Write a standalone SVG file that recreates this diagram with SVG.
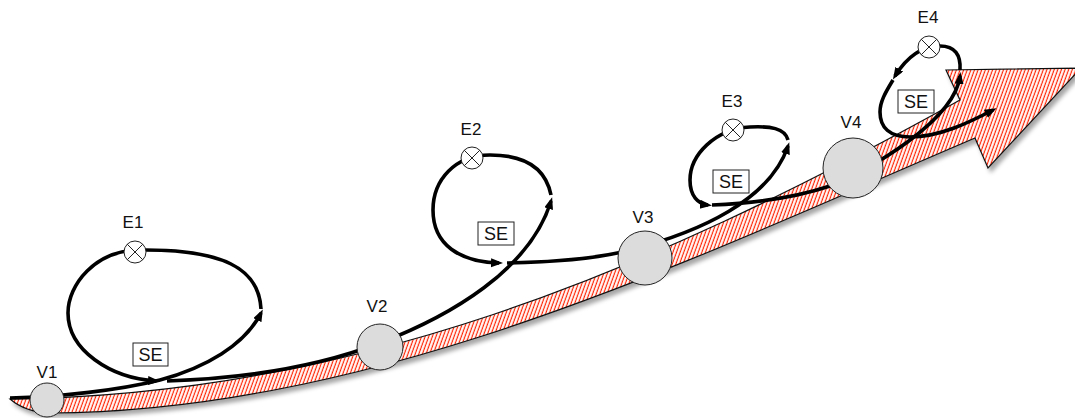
<svg xmlns="http://www.w3.org/2000/svg" width="1075" height="418" viewBox="0 0 1075 418">
<style>
.lbl{font-family:"Liberation Sans",Arial,sans-serif;font-size:17px;fill:#111;text-anchor:middle}
.se{font-family:"Liberation Sans",Arial,sans-serif;font-size:18px;fill:#111;text-anchor:middle}
.flow{fill:none;stroke:#000;stroke-width:3.6;stroke-linecap:butt}
.arr{marker-end:url(#ah)}
.v{fill:#dcdcdc;stroke:#222;stroke-width:1}
.e{fill:#fff;stroke:#222;stroke-width:1}
.x{stroke:#222;stroke-width:1}
.box{fill:#fff;stroke:#222;stroke-width:1}
</style>
<defs>
<pattern id="hatch" width="3.4" height="3.4" patternUnits="userSpaceOnUse" patternTransform="rotate(20)">
<rect width="3.4" height="3.4" fill="#fff"/>
<line x1="1.2" y1="0" x2="1.2" y2="3.4" stroke="#ff2200" stroke-width="1.2"/>
</pattern>
<filter id="sh" x="-5%" y="-10%" width="115%" height="130%">
<feDropShadow dx="3" dy="4" stdDeviation="2" flood-color="#000" flood-opacity="0.35"/>
</filter>
<marker id="ah" markerUnits="userSpaceOnUse" markerWidth="14" markerHeight="10" refX="8" refY="4.5" orient="auto">
<path d="M0,0 L12,4.5 L0,9 Z" fill="#000"/>
</marker>
</defs>

<g id="bigarrow">
<path d="M10,399 C350,395 640,278 960,100 L946,70 L1081,68 L988,168 L975,138 C700,255 380,412 50,413 Q25,412 10,399 Z" fill="url(#hatch)" stroke="#111" stroke-width="1.2" filter="url(#sh)"/>
</g>

<g id="connectors">
<path class="flow arr" d="M10,398 C60,397 120,390 160,380 C205,368 245,345 261,313"/>
<path class="flow arr" d="M261,309 C259,268 222,249 140,250 C95,250 68,285 68,313 C68,350 110,378 156,381"/>
<path class="flow arr" d="M167,381 C260,378 330,362 380,343 C450,316 530,270 551,201"/>
<path class="flow arr" d="M551,195 C545,165 520,155 490,155 C455,155 433,180 433,210 C433,245 460,262 499,263"/>
<path class="flow arr" d="M507,263 C560,262 600,258 630,250 C700,232 770,200 788,146"/>
<path class="flow arr" d="M788,140 C785,128 770,126 750,127 C715,129 690,155 690,180 C690,196 698,204 708,205"/>
<path class="flow arr" d="M712,205 C760,203 800,196 830,186 C870,170 955,120 960,76"/>
<path class="flow arr" d="M960,70 C961,55 955,46 940,46 C920,46 905,60 895,76"/>
<path class="flow arr" d="M893,80 C885,93 880,102 880,112 C880,128 890,137 910,137 C940,137 970,122 993,110"/>
</g>

<g id="V1"><circle class="v" cx="47" cy="400" r="17"/><text class="lbl" x="47" y="378">V1</text></g>
<g id="V2"><circle class="v" cx="380" cy="347" r="23"/><text class="lbl" x="377" y="312">V2</text></g>
<g id="V3"><circle class="v" cx="645" cy="258" r="27"/><text class="lbl" x="643" y="223">V3</text></g>
<g id="V4"><circle class="v" cx="853" cy="168" r="30"/><text class="lbl" x="851" y="128">V4</text></g>

<g id="E1"><circle class="e" cx="135" cy="252" r="11"/><path class="x" d="M127.2,244.2 L142.8,259.8 M142.8,244.2 L127.2,259.8"/><text class="lbl" x="133" y="228">E1</text></g>
<g id="E2"><circle class="e" cx="472" cy="158" r="11"/><path class="x" d="M464.2,150.2 L479.8,165.8 M479.8,150.2 L464.2,165.8"/><text class="lbl" x="471" y="135">E2</text></g>
<g id="E3"><circle class="e" cx="733" cy="130" r="11"/><path class="x" d="M725.2,122.2 L740.8,137.8 M740.8,122.2 L725.2,137.8"/><text class="lbl" x="732" y="107">E3</text></g>
<g id="E4"><circle class="e" cx="929" cy="47" r="11"/><path class="x" d="M921.2,39.2 L936.8,54.8 M936.8,39.2 L921.2,54.8"/><text class="lbl" x="928" y="23">E4</text></g>

<g id="SE1"><rect class="box" x="133" y="343" width="35" height="23"/><text class="se" x="150.5" y="361">SE</text></g>
<g id="SE2"><rect class="box" x="478" y="222" width="36" height="23"/><text class="se" x="496" y="240">SE</text></g>
<g id="SE3"><rect class="box" x="713" y="170" width="36" height="23"/><text class="se" x="731" y="188">SE</text></g>
<g id="SE4"><rect class="box" x="898" y="90" width="36" height="23"/><text class="se" x="916" y="108">SE</text></g>
</svg>
